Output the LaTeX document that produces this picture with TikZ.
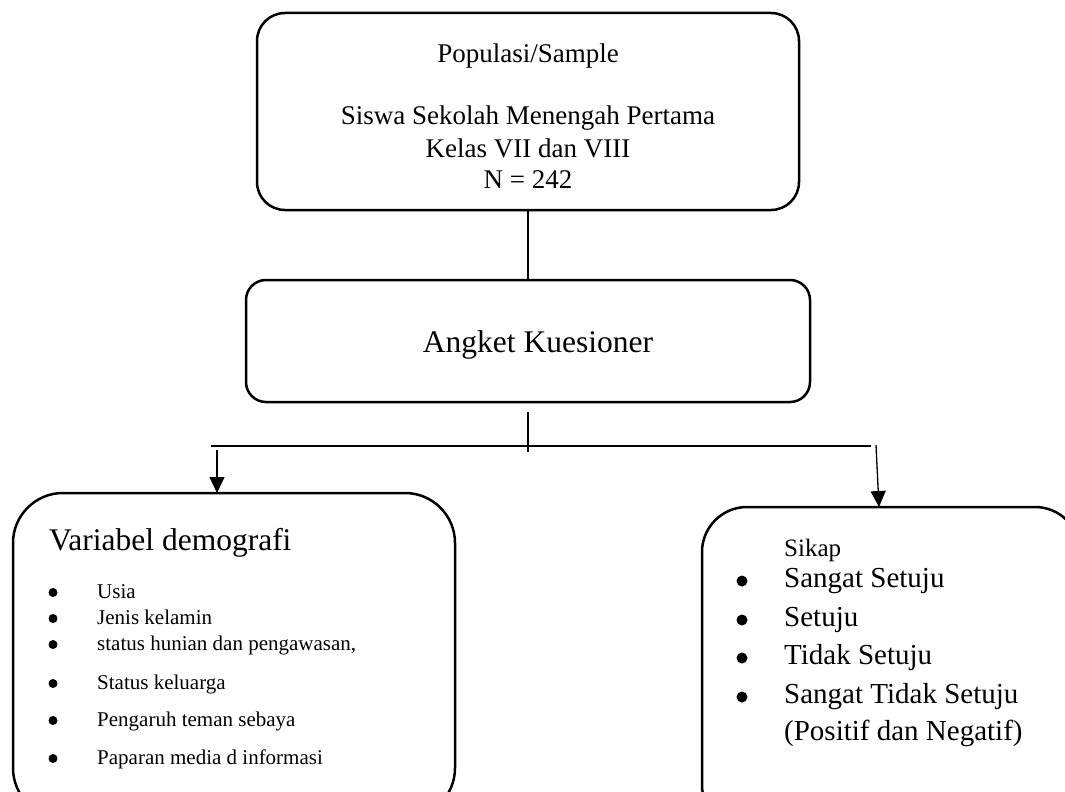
\documentclass[tikz,border=0pt]{standalone}
\usepackage{fontspec}
\setmainfont{Liberation Serif}
\usetikzlibrary{arrows.meta}
\begin{document}
\begin{tikzpicture}[x=1pt,y=-1pt,
  box/.style={draw, line width=2.5pt, inner sep=0pt, outer sep=0pt},
  conn/.style={draw, line width=1.3pt},
  arr/.style={conn, -{Triangle[length=16pt,width=15pt]}},
  toptxt/.style={anchor=base, font=\fontsize{27}{32}\selectfont, inner sep=0pt},
  lsml/.style={anchor=base west, font=\fontsize{21}{25}\selectfont, inner sep=0pt},
  rbig/.style={anchor=base west, font=\fontsize{29}{34}\selectfont, inner sep=0pt},
  dotl/.style={circle, fill, inner sep=0pt, minimum size=9pt},
  dotr/.style={circle, fill, inner sep=0pt, minimum size=11pt}
]
\clip (0,0) rectangle (1065,792);
\fill[white] (0,0) rectangle (1065,792);

% boxes
\node[box, rounded corners=28pt, minimum width=542pt, minimum height=197pt] (top) at (528,111.5) {};
\node[box, rounded corners=20pt, minimum width=564pt, minimum height=122pt] (mid) at (528,341) {};
\node[box, rounded corners=50pt, minimum width=442pt, minimum height=325pt] (left) at (234,655.5) {};
\node[box, rounded corners=45pt, minimum width=378pt, minimum height=323pt] (right) at (891,668.5) {};

% top text
\node[toptxt] (t1) at (528,63) {Populasi/Sample};
\node[toptxt] (t2) at (528,124) {Siswa Sekolah Menengah Pertama};
\node[toptxt] (t3) at (528,157) {Kelas VII dan VIII};
\node[toptxt] (t4) at (528,188) {N = 242};

% middle text
\node[anchor=base, font=\fontsize{31.5}{38}\selectfont, inner sep=0pt] (m1) at (538,352) {Angket Kuesioner};

% left box text
\node[anchor=base west, font=\fontsize{31.5}{36}\selectfont, inner sep=0pt] (l0) at (49,550) {Variabel demografi};
\foreach \y/\t [count=\i] in {598/Usia, 624/Jenis kelamin, 650/{status hunian dan pengawasan,}, 689/Status keluarga, 726/Pengaruh teman sebaya, 764/Paparan media d informasi}{
  \node[dotl] (lb\i) at (53,\y-5.5) {};
  \node[lsml] (lt\i) at (97,\y) {\t};
}

% right box text
\node[anchor=base west, font=\fontsize{25}{30}\selectfont, inner sep=0pt] (r0) at (784,556) {Sikap};
\foreach \y/\t [count=\i] in {587/Sangat Setuju, 626/Setuju, 664/Tidak Setuju, 703/Sangat Tidak Setuju}{
  \node[dotr] (rb\i) at (742,\y-6) {};
  \node[rbig] (rt\i) at (784,\y) {\t};
}
\node[rbig] (rt5) at (784,740) {(Positif dan Negatif)};

% connectors
\draw[conn] (top.south) -- (mid.north);
\coordinate (j1) at (528,412);
\coordinate (j2) at (528,452);
\draw[conn] (j1) -- (j2);
\coordinate (hl) at (211,446);
\coordinate (hr) at (871,446);
\draw[conn] (hl) -- (hr);
\coordinate (la) at (217,450);
\draw[arr] (la) -- (la |- left.north);
\coordinate (ra) at (876,445);
\draw[arr] (ra) -- (879,0 |- right.north);
\end{tikzpicture}
\end{document}
